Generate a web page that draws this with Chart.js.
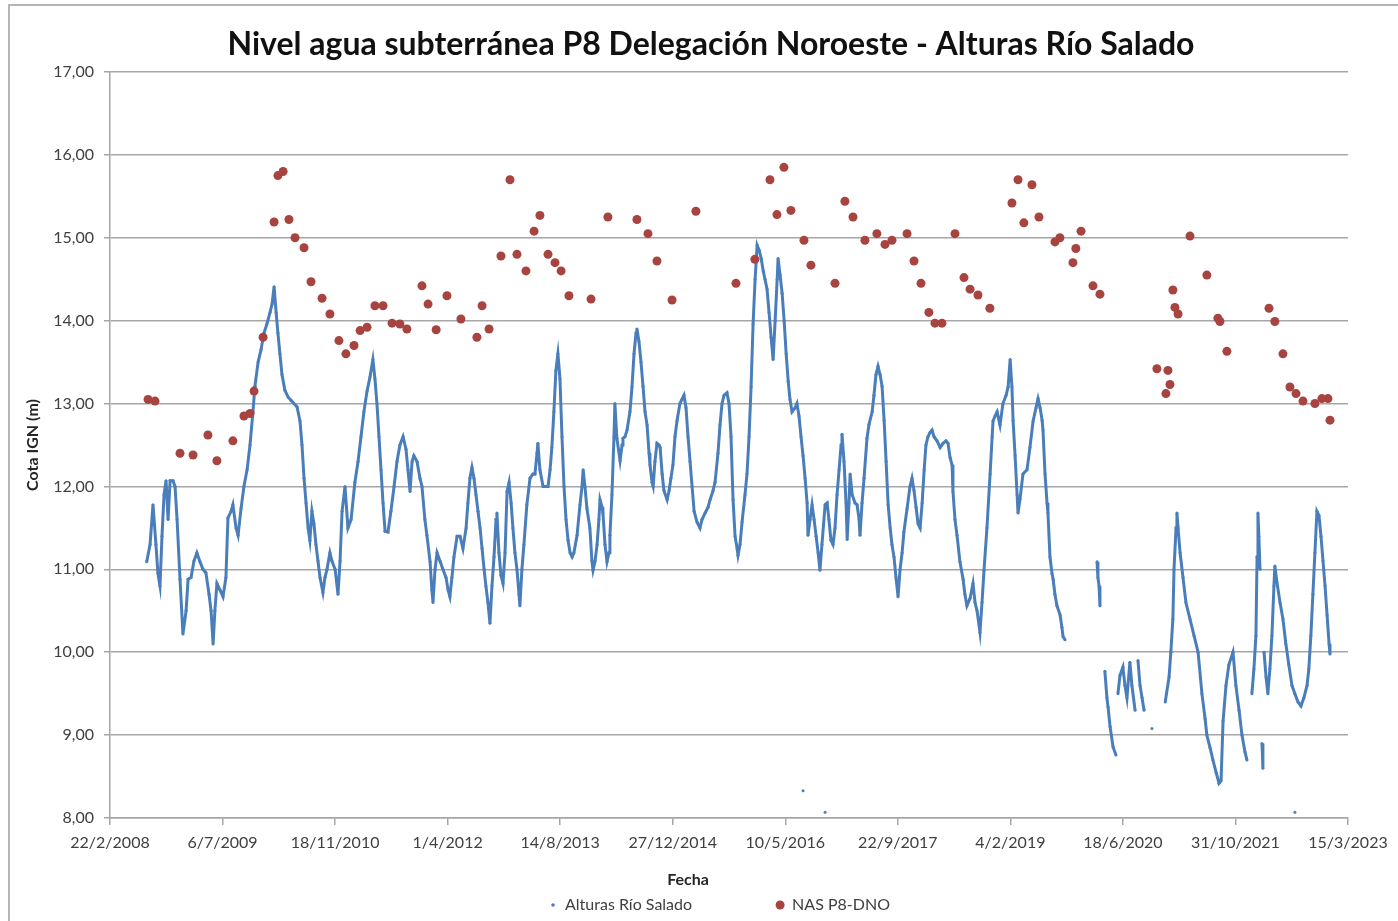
<!DOCTYPE html>
<html><head><meta charset="utf-8">
<script src="https://cdn.jsdelivr.net/npm/chart.js@4.4.0/dist/chart.umd.min.js"></script>
<style>html,body{margin:0;padding:0;background:#fff;overflow:hidden}#wrap{width:1398px;height:921px;position:relative}</style>
</head><body><div id="wrap"><canvas id="c" width="1398" height="921"></canvas></div>
<script>
// ---- texts ----
const tituloGrafico = 'Nivel agua subterránea P8 Delegación Noroeste - Alturas Río Salado';
const tituloEjeY = 'Cota IGN (m)';
const tituloEjeX = 'Fecha';
const nombresSeries = ['Alturas Río Salado', 'NAS P8-DNO'];
// ---- tick values (Excel date serials / metres) ----
const ticksFecha = [39500, 40000, 40500, 41000, 41500, 42000, 42500, 43000, 43500, 44000, 44500, 45000];
const ticksCota = [8, 9, 10, 11, 12, 13, 14, 15, 16, 17];
// ---- series: Alturas Río Salado (date serial, level m); null = gap ----
const fechasAlturas = [
39663,39678,39691,39704,39713,39722,39731,39740,39749,39758,
39767,39780,39789,39798,39811,39824,39838,39847,39860,39873,
39886,39900,39913,39926,39940,39949,39958,39966,39975,39989,
40002,40015,40024,40038,40046,40060,40069,40082,40095,40109,
40122,40135,40144,40158,40171,40184,40197,40211,40220,40229,
40238,40246,40255,40264,40277,40291,40304,40317,40331,40344,
40353,40362,40371,40380,40388,40397,40406,40415,40424,40433,
40446,40455,40464,40477,40486,40500,40513,40522,40531,40544,
40557,40571,40588,40602,40615,40628,40642,40655,40668,40677,
40686,40695,40704,40713,40722,40735,40748,40762,40775,40788,
40802,40815,40824,40833,40842,40850,40864,40877,40886,40899,
40908,40922,40930,40935,40944,40953,40966,40979,40993,41002,
41010,41019,41028,41042,41055,41068,41082,41090,41099,41108,
41117,41126,41135,41144,41153,41162,41170,41179,41188,41197,
41206,41215,41219,41228,41237,41246,41255,41264,41273,41282,
41290,41299,41308,41317,41321,41330,41339,41352,41366,41379,
41388,41397,41401,41410,41424,41437,41446,41455,41463,41472,
41481,41490,41499,41508,41517,41526,41535,41544,41553,41561,
41575,41588,41597,41602,41610,41619,41632,41641,41646,41655,
41664,41672,41677,41686,41690,41699,41708,41717,41721,41730,
41739,41743,41752,41766,41775,41779,41788,41797,41810,41819,
41828,41837,41841,41850,41859,41868,41877,41886,41895,41899,
41908,41913,41921,41930,41939,41944,41953,41961,41975,41984,
41992,42001,42010,42019,42032,42041,42050,42059,42068,42077,
42086,42095,42108,42121,42130,42144,42157,42166,42179,42188,
42201,42210,42219,42228,42241,42250,42259,42268,42277,42286,
42290,42299,42308,42321,42330,42339,42348,42357,42366,42375,
42384,42393,42402,42410,42419,42428,42437,42446,42455,42464,
42468,42477,42486,42495,42504,42513,42521,42530,42544,42552,
42561,42570,42579,42588,42597,42601,42610,42619,42628,42637,
42646,42654,42663,42677,42686,42694,42703,42712,42721,42730,
42739,42748,42752,42761,42770,42775,42783,42788,42797,42810,
42819,42828,42832,42841,42850,42863,42872,42886,42894,42903,
42912,42921,42930,42939,42948,42957,42966,42974,42983,42992,
43001,43010,43019,43027,43041,43054,43063,43072,43081,43090,
43099,43108,43117,43125,43134,43143,43152,43161,43174,43188,
43201,43214,43223,43232,43241,43245,43254,43263,43276,43290,
43298,43307,43321,43334,43343,43352,43365,43374,43383,43396,
43410,43419,43423,43432,43441,43454,43467,43481,43490,43499,
43507,43512,43521,43530,43534,43543,43556,43574,43587,43601,
43614,43623,43632,43641,43645,43654,43663,43667,43676,43685,
43690,43698,43707,43721,43729,43734,43743,43800,43885,43889,
43894,43898,43910,43920,43929,43934,43943,43956,43969,43973,
43978,43987,44000,44009,44018,44031,44040,44054,44060,44067,
44076,44085,44094,44110,44129,44150,44188,44205,44213,44222,
44227,44236,44240,44245,44254,44267,44280,44298,44316,44334,
44351,44365,44373,44387,44400,44414,44427,44436,44445,44458,
44471,44489,44502,44516,44529,44542,44551,44560,44573,44582,
44591,44596,44600,44604,44609,44612,44618,44622,44625,44627,
44636,44644,44653,44662,44671,44675,44684,44698,44711,44724,
44737,44751,44764,44778,44791,44804,44818,44826,44835,44844,
44853,44862,44871,44880,44889,44898,44907,44916,44920,44921,
42579,42580,42677,42678,44764
];
const alturas = [
11.09,11.3,11.78,11.3,10.95,10.8,11.4,11.9,12.07,11.6,
12.07,12.07,12.0,11.6,10.88,10.22,10.5,10.88,10.9,11.1,
11.2,11.09,11.0,10.96,10.7,10.5,10.1,10.5,10.83,10.75,
10.67,10.9,11.62,11.7,11.78,11.5,11.41,11.73,12.0,12.2,
12.5,12.9,13.21,13.5,13.65,13.85,13.96,14.1,14.2,14.41,
14.1,13.85,13.6,13.35,13.16,13.08,13.04,13.0,12.96,12.79,
12.5,12.1,11.8,11.5,11.35,11.7,11.55,11.3,11.1,10.9,
10.72,10.9,11.0,11.2,11.1,11.0,10.7,11.1,11.7,12.0,
11.5,11.6,12.05,12.3,12.6,12.9,13.15,13.32,13.53,13.3,
13.0,12.6,12.2,11.8,11.46,11.45,11.7,12.0,12.3,12.5,
12.6,12.45,12.2,11.94,12.3,12.37,12.3,12.1,12.0,11.6,
11.41,11.09,10.75,10.6,11.0,11.2,11.1,11.0,10.9,10.75,
10.67,10.9,11.15,11.4,11.4,11.25,11.5,11.8,12.1,12.23,
12.1,11.9,11.7,11.5,11.25,11.0,10.8,10.6,10.35,10.8,
11.15,11.6,11.68,11.2,10.93,10.83,11.2,11.94,12.05,11.8,
11.5,11.2,11.0,10.7,10.56,11.0,11.3,11.78,12.1,12.15,
12.15,12.4,12.52,12.2,12.0,12.0,12.0,12.2,12.47,12.9,
13.4,13.6,13.3,12.6,12.0,11.6,11.35,11.2,11.15,11.2,
11.41,11.78,12.0,12.2,12.0,11.73,11.5,11.1,10.99,11.1,
11.3,11.6,11.84,11.75,11.68,11.3,11.09,11.2,11.41,11.9,
12.6,13.0,12.58,12.31,12.5,12.58,12.6,12.68,12.9,13.2,
13.6,13.85,13.9,13.75,13.5,13.21,12.9,12.74,12.4,12.26,
12.05,12.0,12.3,12.52,12.5,12.47,12.15,11.95,11.84,11.95,
12.1,12.26,12.6,12.79,13.0,13.05,13.1,12.95,12.6,12.3,
12.0,11.7,11.57,11.5,11.6,11.68,11.75,11.84,11.95,12.05,
12.4,12.74,13.0,13.1,13.13,13.0,12.6,11.84,11.4,11.25,
11.17,11.3,11.57,11.9,12.15,12.6,13.2,13.96,14.5,14.91,
14.85,14.75,14.6,14.5,14.38,14.1,13.8,13.53,14.0,14.5,
14.75,14.55,14.33,14.0,13.6,13.27,13.05,12.9,12.95,13.0,
12.85,12.6,12.37,12.1,11.8,11.41,11.6,11.78,11.6,11.4,
11.2,10.99,11.3,11.78,11.8,11.6,11.35,11.3,11.5,11.9,
12.2,12.5,12.63,12.3,11.8,11.36,11.8,12.15,11.9,11.8,
11.78,11.6,11.41,11.8,12.1,12.58,12.75,12.9,13.1,13.35,
13.45,13.35,13.21,12.8,12.3,11.78,11.5,11.3,11.15,10.9,
10.67,11.0,11.2,11.45,11.73,12.0,12.1,11.95,11.75,11.55,
11.5,11.8,12.2,12.5,12.6,12.65,12.68,12.6,12.55,12.47,
12.52,12.55,12.52,12.35,12.26,11.94,11.6,11.41,11.09,10.88,
10.7,10.56,10.65,10.83,10.6,10.5,10.24,10.6,10.99,11.5,
12.15,12.6,12.79,12.85,12.9,12.74,13.0,13.1,13.2,13.53,
13.2,12.8,12.37,11.9,11.68,11.85,12.15,12.2,12.47,12.79,
12.95,13.06,12.95,12.8,12.68,12.15,11.8,11.68,11.15,10.95,
10.88,10.7,10.56,10.45,10.3,10.19,10.15,null,11.09,10.9,
10.8,10.56,null,9.77,9.45,9.34,9.1,8.86,8.76,null,
9.5,9.72,9.82,9.6,9.45,9.88,9.6,9.3,null,9.9,
9.6,9.45,9.3,null,9.08,null,9.4,9.7,10.0,10.4,
11.0,11.5,11.68,11.5,11.2,10.9,10.6,10.4,10.2,10.0,
9.5,9.2,9.0,8.85,8.7,8.55,8.42,8.45,9.17,9.6,
9.85,10.0,9.6,9.3,9.0,8.8,8.7,null,9.5,9.8,
10.2,11.15,11.68,11.4,11.0,null,8.9,8.6,null,10.0,
9.7,9.5,9.8,10.2,10.8,11.04,10.85,10.6,10.4,10.1,
9.85,9.6,9.5,9.4,9.35,9.45,9.6,9.8,10.2,10.7,
11.2,11.7,11.65,11.4,11.1,10.8,10.45,10.1,9.98,null,
8.33,null,8.07,null,8.07
];
// ---- series: NAS P8-DNO ----
const fechasNAS = [
39669,39700,39811,39869,39935,39975,40046,40095,40122,40140,
40180,40229,40246,40269,40295,40322,40362,40393,40442,40477,
40517,40548,40584,40611,40642,40677,40713,40753,40788,40819,
40886,40913,40949,40997,41059,41130,41153,41184,41237,41277,
41308,41348,41384,41410,41446,41477,41504,41539,41637,41712,
41841,41890,41930,41997,42103,42281,42365,42432,42463,42494,
42525,42583,42614,42721,42765,42801,42854,42907,42943,42974,
43041,43072,43103,43138,43165,43196,43254,43294,43321,43356,
43409,43507,43534,43560,43596,43627,43698,43720,43778,43791,
43814,43867,43898,44151,44191,44200,44209,44222,44231,44245,
44298,44373,44422,44431,44462,44649,44675,44711,44742,44769,
44800,44853,44884,44911,44920
];
const nivelesNAS = [
13.05,13.03,12.40,12.38,12.62,12.31,12.55,12.85,12.88,13.15,
13.8,15.19,15.75,15.8,15.22,15.0,14.88,14.47,14.27,14.08,
13.76,13.6,13.7,13.88,13.92,14.18,14.18,13.97,13.96,13.9,
14.42,14.2,13.89,14.3,14.02,13.8,14.18,13.9,14.78,15.7,
14.8,14.6,15.08,15.27,14.8,14.7,14.6,14.3,14.26,15.25,
15.22,15.05,14.72,14.25,15.32,14.45,14.74,15.7,15.28,15.85,
15.33,14.97,14.67,14.45,15.44,15.25,14.97,15.05,14.92,14.97,
15.05,14.72,14.45,14.1,13.97,13.97,15.05,14.52,14.38,14.31,
14.15,15.42,15.7,15.18,15.64,15.25,14.95,15.0,14.7,14.87,
15.08,14.42,14.32,13.42,13.12,13.4,13.23,14.37,14.16,14.08,
15.02,14.55,14.03,13.99,13.63,14.15,13.99,13.6,13.2,13.12,
13.03,13.0,13.06,13.06,12.8
];

const AZUL = '#4a7ebb';
const ROJO = '#a8443f';
const GRIS_TEXTO = '#404040';
const FUENTE = 'Lato, "Open Sans", "DejaVu Sans", sans-serif';

function serialAFecha(s) {
  const d = new Date(Date.UTC(1899, 11, 30) + s * 86400000);
  return d.getUTCDate() + '/' + (d.getUTCMonth() + 1) + '/' + d.getUTCFullYear();
}
const marcoPlugin = {
  id: 'marco',
  beforeDraw(chart) {
    const g = chart.ctx; g.save();
    g.fillStyle = '#fff'; g.fillRect(0, 0, chart.width, chart.height);
    g.strokeStyle = '#b5b5b5'; g.lineWidth = 2;
    g.strokeRect(9, 5, chart.width + 40, chart.height + 40);
    g.restore();
  }
};
// chart title, x-axis title and legend, placed like the original spreadsheet chart
const textosPlugin = {
  id: 'textos',
  afterDraw(chart) {
    const g = chart.ctx, ca = chart.chartArea;
    const ds = chart.data.datasets;
    const cx = (ca.left + ca.right) / 2;
    g.save();
    g.textBaseline = 'middle';
    // title
    g.textAlign = 'center'; g.fillStyle = '#111';
    g.font = 'bold 32px ' + FUENTE;
    g.fillText(tituloGrafico, cx - 18, ca.top - 27);
    // x-axis title
    g.fillStyle = '#262626'; g.font = 'bold 16px ' + FUENTE;
    g.fillText(tituloEjeX, cx - 41, ca.bottom + 62);
    // legend
    g.textAlign = 'left'; g.font = '16px ' + FUENTE;
    const w0 = g.measureText(ds[0].label).width;
    const sep = 12, hueco = 88;
    let x = cx - 176;
    const y = ca.bottom + 87;
    g.fillStyle = ds[0].pointBackgroundColor; g.beginPath(); g.arc(x, y, 1.8, 0, Math.PI * 2); g.fill();
    g.fillStyle = GRIS_TEXTO; g.fillText(ds[0].label, x + sep, y);
    x += sep + w0 + hueco;
    g.fillStyle = ds[1].backgroundColor; g.beginPath(); g.arc(x, y, 4.5, 0, Math.PI * 2); g.fill();
    g.fillStyle = GRIS_TEXTO; g.fillText(ds[1].label, x + sep, y);
    g.restore();
  }
};

const datosAlturas = fechasAlturas.map((f, i) => ({ x: f, y: alturas[i] }));
const datosNAS = fechasNAS.map((f, i) => ({ x: f, y: nivelesNAS[i] }));

new Chart(document.getElementById('c'), {
  type: 'scatter',
  data: {
    datasets: [
      { label: nombresSeries[0], data: datosAlturas, showLine: true, spanGaps: false,
        borderColor: AZUL, borderWidth: 3, backgroundColor: AZUL,
        pointRadius: 1.5, pointBorderWidth: 0, pointBackgroundColor: AZUL, order: 2 },
      { label: nombresSeries[1], data: datosNAS, showLine: false,
        backgroundColor: ROJO, borderColor: ROJO, pointBackgroundColor: ROJO, pointRadius: 4.5, pointBorderWidth: 0, order: 1 }
    ]
  },
  options: {
    responsive: false, animation: false, devicePixelRatio: 1,
    layout: { padding: { left: 23, right: 50, top: 72, bottom: 33 } },
    plugins: {
      tooltip: { enabled: false },
      legend: { display: false },
      title: { display: false }
    },
    scales: {
      x: { type: 'linear', position: 'bottom', min: 39500, max: 45000,
        afterBuildTicks: s => { s.ticks = ticksFecha.map(v => ({ value: v })); },
        afterFit: s => { s.height = 70; },
        ticks: { callback: v => serialAFecha(v), autoSkip: false, maxRotation: 0, padding: 8,
          color: GRIS_TEXTO, font: { family: FUENTE, size: 16 } },
        grid: { drawOnChartArea: false, drawTicks: true, tickLength: 7, color: '#a6a6a6', lineWidth: 1.5 },
        border: { color: '#a6a6a6', width: 1.5 },
        title: { display: false } },
      y: { type: 'linear', min: 8, max: 17,
        afterBuildTicks: s => { s.ticks = ticksCota.map(v => ({ value: v })); },
        afterFit: s => { s.width = 87; },
        ticks: { callback: v => v.toFixed(2).replace('.', ','), padding: 10, color: GRIS_TEXTO, font: { family: FUENTE, size: 16 } },
        grid: { color: '#a6a6a6', lineWidth: 1.5, tickLength: 6 },
        border: { color: '#a6a6a6', width: 1.5 },
        title: { display: true, text: tituloEjeY, color: '#262626', font: { family: FUENTE, size: 16, weight: 'bold' }, padding: { top: 0, bottom: 0 } } }
    }
  },
  plugins: [marcoPlugin, textosPlugin]
});
</script></body></html>
